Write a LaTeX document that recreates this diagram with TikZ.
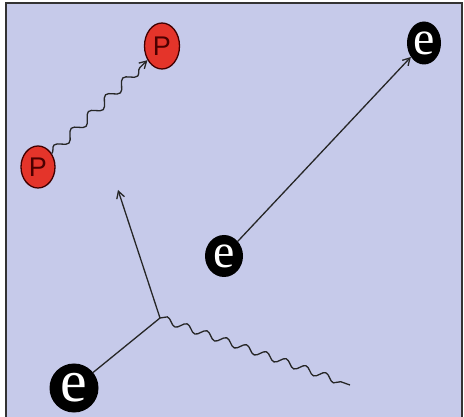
\documentclass[tikz,border=0pt]{standalone}
\usepackage{fontspec}
\setmainfont{Liberation Serif}
\setsansfont{Liberation Sans}
\usetikzlibrary{arrows.meta,shapes.geometric,decorations.pathmorphing}
\definecolor{paper}{RGB}{198,202,234}
\definecolor{protonred}{RGB}{228,52,42}

\begin{document}
\begin{tikzpicture}[
  x=1pt, y=-1pt,
  >={Straight Barb[length=7pt,width=8pt]},
  proton/.style={ellipse, draw=black!75!red, line width=1.3pt, fill=protonred,
    inner sep=0pt, text=black!70!red, font=\sffamily\fontsize{27}{27}\selectfont},
  electron/.style={ellipse, fill=black, inner sep=0pt, text=white,
    font=\fontsize{48}{48}\selectfont},
  track/.style={line width=1.3pt, draw=black!85},
  photon/.style={track, decorate, decoration={snake, amplitude=4.5pt,
    segment length=24pt, post length=3pt}}
]
\useasboundingbox (0,0) rectangle (464,417);

% paper and frame
\fill[paper] (6,3) rectangle (462,417);
\draw[line width=1.8pt, black!80] (6,417) -- (6,3) -- (462,3) -- (462,417);

% particles
\node[proton, minimum width=34pt, minimum height=42pt] (pA) at (38,167) {P};
\node[proton, minimum width=35pt, minimum height=46pt] (pB) at (162,46) {P};
\node[electron, minimum width=34pt, minimum height=43pt] (eA) at (424,43) {e};
\node[electron, minimum width=38pt, minimum height=42pt] (eB) at (224,256) {e};
\node[electron, minimum width=49pt, minimum height=49pt,
  font=\fontsize{60}{60}\selectfont] (eC) at (74,388) {e};

% vertex and free ends
\coordinate (v) at (160,318);
\coordinate (up) at (118,190);
\coordinate (wEnd) at (350,385);

% tracks
\draw[photon, ->] (pA) -- (pB);
\draw[track, ->] (eB) -- (eA);
\draw[track] (eC) -- (v);
\draw[track, ->] (v) -- (up);
\draw[photon, decoration={amplitude=3.5pt, segment length=21pt}] (v) -- (wEnd);

\end{tikzpicture}
\end{document}
